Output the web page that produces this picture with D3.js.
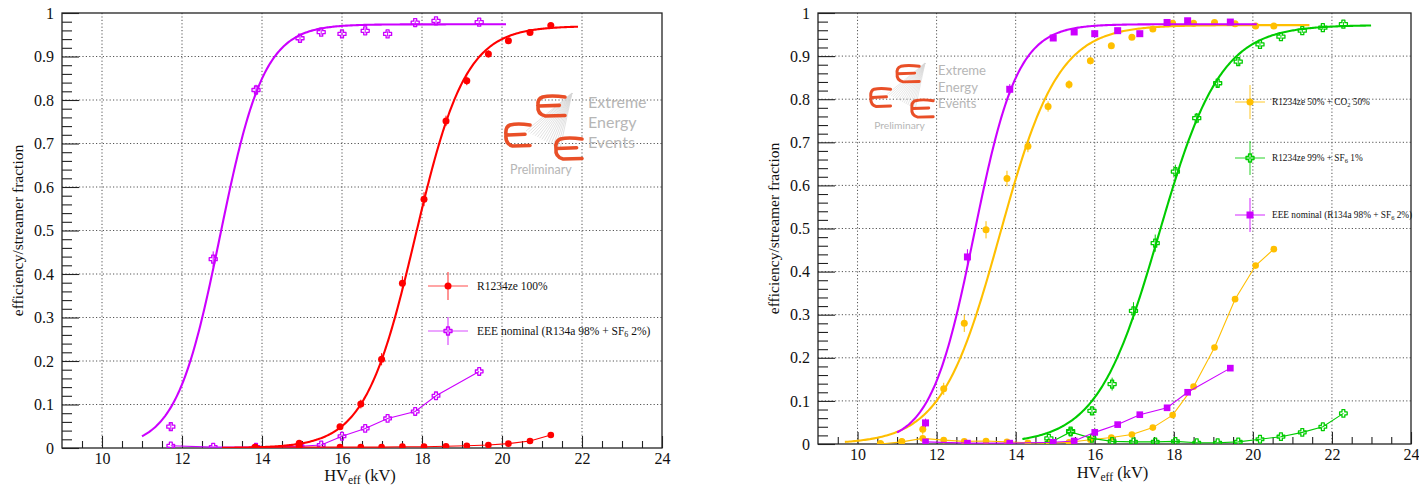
<!DOCTYPE html>
<html><head><meta charset="utf-8">
<script src="https://cdn.jsdelivr.net/npm/d3@7"></script>
<style>
body{margin:0;background:#fff}
svg{display:block}
text{font-family:"Liberation Serif","Times New Roman",serif;fill:#111}
</style>
</head><body>
<svg id="c" width="1419" height="487"></svg>
<script>
// ---------------- DATA ----------------
const xTicks = [10, 12, 14, 16, 18, 20, 22, 24];
const xTickLabels = ["10", "12", "14", "16", "18", "20", "22", "24"];
const yTicks = [0, 0.1, 0.2, 0.3, 0.4, 0.5, 0.6, 0.7, 0.8, 0.9, 1];
const yTickLabels = ["0", "0.1", "0.2", "0.3", "0.4", "0.5", "0.6", "0.7", "0.8", "0.9", "1"];

// EEE nominal (R134a 98% + SF6 2%)
const eeeX   = [11.72, 12.78, 13.85, 14.95, 15.48, 16.0, 16.58, 17.14, 17.83, 18.35, 19.43];
const eeeEff = [0.049, 0.434, 0.823, 0.942, 0.956, 0.952, 0.959, 0.952, 0.978, 0.982, 0.979];
const eeeErr = [0.010, 0.018, 0.012, 0.006, 0.006, 0.006, 0.006, 0.006, 0.005, 0.005, 0.005];
const eeeStr = [0.005, 0.002, 0.002, 0.004, 0.007, 0.027, 0.045, 0.068, 0.084, 0.120, 0.176];
const eeeFit = [0.974, 12.95, 0.548, 11.0, 20.1];   // plateau, HV50, width, from, to

// R1234ze 100%
const r100X   = [13.83, 14.93, 15.95, 16.47, 16.99, 17.51, 18.05, 18.6, 19.12, 19.66, 20.16, 20.7, 21.22];
const r100Eff = [0.002, 0.011, 0.049, 0.101, 0.204, 0.379, 0.572, 0.752, 0.844, 0.906, 0.936, 0.955, 0.971];
const r100Err = [0.002, 0.004, 0.006, 0.010, 0.014, 0.016, 0.016, 0.012, 0.010, 0.008, 0.006, 0.005, 0.005];
const r100Str = [0.002, 0.002, 0.002, 0.002, 0.002, 0.003, 0.003, 0.004, 0.005, 0.007, 0.010, 0.016, 0.030];
const r100Fit = [0.970, 17.83, 0.63, 13.0, 21.9];

// R1234ze 50% + CO2 50%
const co2X   = [10.58, 11.12, 11.65, 12.18, 12.70, 13.25, 13.78, 14.31, 14.82, 15.35, 15.89, 16.42, 16.94, 17.47, 17.97, 18.50, 19.03, 19.55, 20.07, 20.53];
const co2Eff = [0.001, 0.006, 0.034, 0.128, 0.280, 0.497, 0.616, 0.691, 0.783, 0.834, 0.889, 0.924, 0.944, 0.963, 0.976, 0.976, 0.978, 0.975, 0.970, 0.970];
const co2Err = [0.002, 0.003, 0.012, 0.014, 0.020, 0.020, 0.018, 0.014, 0.012, 0.010, 0.008, 0.006, 0.005, 0.005, 0.005, 0.005, 0.005, 0.005, 0.005, 0.005];
const co2Str = [0.000, 0.005, 0.013, 0.009, 0.006, 0.007, 0.005, 0.003, 0.002, 0.004, 0.010, 0.015, 0.022, 0.038, 0.067, 0.133, 0.224, 0.336, 0.414, 0.452];
const co2Fit = [0.972, 13.6, 0.74, 9.68, 21.43];

// R1234ze 99% + SF6 1%
const sf1X   = [14.84, 15.39, 15.93, 16.44, 16.98, 17.53, 18.04, 18.58, 19.11, 19.63, 20.18, 20.71, 21.25, 21.77, 22.29];
const sf1Eff = [0.013, 0.030, 0.077, 0.139, 0.309, 0.466, 0.632, 0.756, 0.837, 0.887, 0.927, 0.945, 0.959, 0.966, 0.974];
const sf1Err = [0.004, 0.006, 0.010, 0.015, 0.020, 0.020, 0.016, 0.012, 0.010, 0.008, 0.006, 0.005, 0.005, 0.005, 0.005];
const sf1Str = [0.002, 0.028, 0.013, 0.006, 0.005, 0.005, 0.006, 0.003, 0.003, 0.005, 0.011, 0.017, 0.027, 0.040, 0.071];
const sf1Fit = [0.972, 17.62, 0.78, 14.17, 22.99];

const RED = "#ff0000", VIOLET = "#cc00ff", ORANGE = "#ffbf00", GREEN = "#00cc00";

// ---------------- DRAW ----------------
const svg = d3.select("#c");
svg.append("rect").attr("width", 1419).attr("height", 487).attr("fill", "#fff");

const crossPath = (s, a) => `M${-a},${-s}L${a},${-s}L${a},${-a}L${s},${-a}L${s},${a}L${a},${a}L${a},${s}L${-a},${s}L${-a},${a}L${-s},${a}L${-s},${-a}L${-a},${-a}Z`;

function marker(sel, type, color, size) {
  size = size || 1;
  if (type === "circle") {
    sel.append("circle").attr("r", 3.5 * size).attr("fill", color);
  } else if (type === "square") {
    sel.append("rect").attr("x", -3.5 * size).attr("y", -3.5 * size)
      .attr("width", 7 * size).attr("height", 7 * size).attr("fill", color);
  } else {
    sel.append("path").attr("d", crossPath(4 * size, 1.5 * size))
      .attr("fill", "none").attr("stroke", color).attr("stroke-width", 1.3).attr("stroke-linejoin", "round");
  }
}

function ePath(x0, y0, w, h) {
  return `M${x0 + w},${y0 + 2} Q${x0 + w * 0.5},${y0} ${x0 + w * 0.2},${y0 + 2} Q${x0},${y0 + 4} ${x0 + 1},${y0 + h * 0.5}` +
    ` Q${x0},${y0 + h - 3} ${x0 + w * 0.3},${y0 + h - 1} L${x0 + w},${y0 + h - 1.5}` +
    ` M${x0 + 2},${y0 + h * 0.5} L${x0 + w * 0.8},${y0 + h * 0.47}`;
}

function logo(g, cx, cy, s) {
  const L = g.append("g").attr("transform", `translate(${cx},${cy}) scale(${s})`).attr("opacity", 0.95);
  const n = 16;
  for (let i = 0; i < n; i++) {
    const t = i / (n - 1);
    L.append("line").attr("x1", 0).attr("y1", 0)
      .attr("x2", -46 + 34 * t).attr("y2", 38 + 18 * t)
      .attr("stroke", "#d4d4d4").attr("stroke-width", 0.7);
  }
  [[-35, 2, 28, 22], [-67, 30, 25, 24], [-17, 44, 27, 23]].forEach(b => {
    L.append("path").attr("d", ePath(b[0], b[1], b[2], b[3]))
      .attr("fill", "none").attr("stroke", "#e8461c").attr("stroke-width", 3.6)
      .attr("stroke-linecap", "round").attr("stroke-linejoin", "round");
  });
  [["Extreme", 9], ["Energy", 29], ["Events", 49]].forEach(d => {
    L.append("text").attr("x", 16).attr("y", d[1] + 6).text(d[0])
      .style("font-family", "Lato, 'Open Sans', sans-serif").style("font-size", "16px").style("fill", "#b3b3b3");
  });
  L.append("text").attr("x", -62).attr("y", 81).text("Preliminary")
    .style("font-family", "Lato, 'Open Sans', sans-serif").style("font-size", "12.5px").style("fill", "#b3b3b3");
}

function addText(t, parts) {
  parts.forEach(p => {
    if (p[1] === "sub") {
      t.append("tspan").attr("font-size", "0.7em").attr("dy", "0.3em").text(p[0]);
    } else if (p[1] === "after") {
      t.append("tspan").attr("dy", "-0.21em").text(p[0]);
    } else {
      t.append("tspan").text(p[0]);
    }
  });
}

function panel(cfg) {
  const x = d3.scaleLinear().domain([9, 24]).range([cfg.x0, cfg.x1]);
  const y = d3.scaleLinear().domain([0, 1]).range([cfg.y1, cfg.y0]);
  const g = svg.append("g");
  const clipId = "clip" + cfg.id;
  svg.append("clipPath").attr("id", clipId).append("rect")
    .attr("x", cfg.x0).attr("y", cfg.y0).attr("width", cfg.x1 - cfg.x0).attr("height", cfg.y1 - cfg.y0);

  // grid
  const grid = g.append("g").attr("stroke", "#555").attr("stroke-width", 1).attr("stroke-dasharray", "1.2,2.2");
  grid.selectAll(".gx").data(xTicks.filter(d => d < 24)).join("line")
    .attr("x1", d => x(d)).attr("x2", d => x(d)).attr("y1", cfg.y0).attr("y2", cfg.y1);
  grid.selectAll(".gy").data(yTicks.filter(d => d > 0 && d < 1)).join("line")
    .attr("y1", d => y(d)).attr("y2", d => y(d)).attr("x1", cfg.x0).attr("x2", cfg.x1);

  logo(g, cfg.logo[0], cfg.logo[1], cfg.logo[2]);

  // axes
  const ax = g.append("g").attr("transform", `translate(0,${cfg.y1})`)
    .call(d3.axisBottom(x).tickValues(xTicks).tickSize(-12).tickPadding(5).tickFormat((d, i) => xTickLabels[i]));
  const axm = g.append("g").attr("transform", `translate(0,${cfg.y1})`)
    .call(d3.axisBottom(x).tickValues(d3.range(9.5, 24, 0.5).filter(v => v % 2 !== 0)).tickSize(-7).tickFormat(""));
  const ay = g.append("g").attr("transform", `translate(${cfg.x0},0)`)
    .call(d3.axisLeft(y).tickValues(yTicks).tickSize(-17).tickPadding(8).tickFormat((d, i) => yTickLabels[i]));
  const aym = g.append("g").attr("transform", `translate(${cfg.x0},0)`)
    .call(d3.axisLeft(y).tickValues(d3.range(1, 50).filter(k => k % 5 !== 0).map(k => k * 0.02)).tickSize(-10).tickFormat(""));
  [ax, axm, ay, aym].forEach(a => {
    a.select(".domain").remove();
    a.selectAll("line").attr("stroke", "#222").attr("stroke-width", 1.1);
    a.selectAll("text").style("font-family", "'Liberation Serif', serif").style("font-size", "16px").style("fill", "#111");
  });

  // frame
  g.append("rect").attr("x", cfg.x0).attr("y", cfg.y0).attr("width", cfg.x1 - cfg.x0).attr("height", cfg.y1 - cfg.y0)
    .attr("fill", "none").attr("stroke", "#222").attr("stroke-width", 1.3);

  // series
  const dg = g.append("g").attr("clip-path", `url(#${clipId})`);
  cfg.series.forEach(s => {
    // streamer fraction (connected)
    const sp = s.x.map((v, i) => [v, s.str[i]]);
    dg.append("path").attr("d", d3.line().x(d => x(d[0])).y(d => y(d[1]))(sp))
      .attr("fill", "none").attr("stroke", s.color).attr("stroke-width", 1.1);
    sp.forEach(d => marker(dg.append("g").attr("transform", `translate(${x(d[0])},${y(d[1])})`), s.marker, s.color, 0.95));
    // fit
    const f = s.fit;
    const fx = d3.range(0, 301).map(k => f[3] + (f[4] - f[3]) * k / 300);
    dg.append("path").attr("d", d3.line().x(d => x(d)).y(d => y(f[0] / (1 + Math.exp(-(d - f[1]) / f[2]))))(fx))
      .attr("fill", "none").attr("stroke", s.color).attr("stroke-width", 2.1);
    // efficiency with error bars
    s.x.forEach((v, i) => {
      dg.append("line").attr("x1", x(v)).attr("x2", x(v))
        .attr("y1", y(s.eff[i] - s.err[i])).attr("y2", y(s.eff[i] + s.err[i]))
        .attr("stroke", s.color).attr("stroke-width", 1);
      marker(dg.append("g").attr("transform", `translate(${x(v)},${y(s.eff[i])})`), s.marker, s.color, 1);
    });
  });

  // legend
  cfg.legend.forEach(l => {
    const lg = g.append("g");
    lg.append("line").attr("x1", l.cx).attr("x2", l.cx).attr("y1", l.cy - l.v).attr("y2", l.cy + l.v)
      .attr("stroke", l.color).attr("stroke-width", 1.2).attr("opacity", 0.7);
    lg.append("line").attr("x1", l.cx - l.h).attr("x2", l.cx + l.h).attr("y1", l.cy).attr("y2", l.cy)
      .attr("stroke", l.color).attr("stroke-width", 1.2).attr("opacity", 0.7);
    marker(lg.append("g").attr("transform", `translate(${l.cx},${l.cy})`), l.marker, l.color, 1);
    const t = lg.append("text").attr("x", l.tx).attr("y", l.cy + l.fs * 0.33).style("font-size", l.fs + "px");
    addText(t, l.text);
  });

  // titles
  g.append("text").attr("transform", `translate(${cfg.ytx},${(cfg.y0 + cfg.y1) / 2}) rotate(-90)`)
    .attr("text-anchor", "middle").style("font-size", "15.5px").text("efficiency/streamer fraction");
  const xt = g.append("text").attr("x", (cfg.x0 + cfg.x1) / 2 - 2).attr("y", cfg.xty)
    .attr("text-anchor", "middle").style("font-size", "16.5px");
  addText(xt, [["HV", ""], ["eff", "sub"], [" (kV)", "after"]]);
}

panel({
  id: "L", x0: 62, x1: 662, y0: 13, y1: 448, ytx: 23, xty: 481,
  logo: [572, 93, 1],
  series: [
    { x: eeeX, eff: eeeEff, err: eeeErr, str: eeeStr, fit: eeeFit, color: VIOLET, marker: "cross" },
    { x: r100X, eff: r100Eff, err: r100Err, str: r100Str, fit: r100Fit, color: RED, marker: "circle" }
  ],
  legend: [
    { cx: 448, cy: 286, v: 14, h: 20, tx: 477, fs: 11.5, color: RED, marker: "circle", text: [["R1234ze 100%", ""]] },
    { cx: 448, cy: 331, v: 14, h: 20, tx: 477, fs: 11.5, color: VIOLET, marker: "cross",
      text: [["EEE nominal (R134a 98% + SF", ""], ["6", "sub"], [" 2%)", "after"]] }
  ]
});

panel({
  id: "R", x0: 818, x1: 1411, y0: 13, y1: 444, ytx: 779, xty: 478,
  logo: [925, 63, 0.82],
  series: [
    { x: co2X, eff: co2Eff, err: co2Err, str: co2Str, fit: co2Fit, color: ORANGE, marker: "circle" },
    { x: sf1X, eff: sf1Eff, err: sf1Err, str: sf1Str, fit: sf1Fit, color: GREEN, marker: "cross" },
    { x: eeeX, eff: eeeEff, err: eeeErr, str: eeeStr, fit: eeeFit, color: VIOLET, marker: "square" }
  ],
  legend: [
    { cx: 1250, cy: 102, v: 17, h: 15, tx: 1272, fs: 9.3, color: ORANGE, marker: "circle",
      text: [["R1234ze 50% + CO", ""], ["2", "sub"], [" 50%", "after"]] },
    { cx: 1250, cy: 158, v: 17, h: 15, tx: 1272, fs: 9.3, color: GREEN, marker: "cross",
      text: [["R1234ze 99% + SF", ""], ["6", "sub"], [" 1%", "after"]] },
    { cx: 1250, cy: 215, v: 17, h: 15, tx: 1272, fs: 9.3, color: VIOLET, marker: "square",
      text: [["EEE nominal (R134a 98% + SF", ""], ["6", "sub"], [" 2%)", "after"]] }
  ]
});
</script>
</body></html>
